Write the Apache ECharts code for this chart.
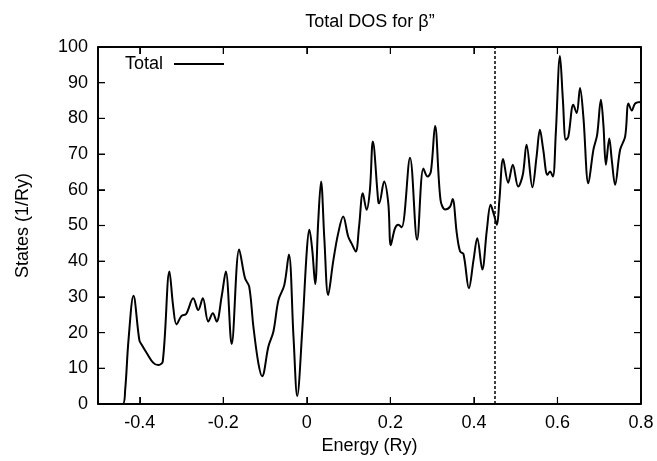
<!DOCTYPE html>
<html>
<head>
<meta charset="utf-8">
<script src="https://cdn.jsdelivr.net/npm/echarts@6/dist/echarts.min.js"></script>
<style>
  html, body { margin: 0; padding: 0; background: #fff; }
  #chart { width: 657px; height: 461px; }
</style>
</head>
<body>
<div id="chart"></div>
<script>
// Total density of states, energy in Ry, states per Ry
const energy = [
  -0.50, -0.441, -0.435, -0.427, -0.415, -0.401, -0.395, -0.383, -0.368, -0.356, -0.345,
  -0.329, -0.320, -0.312, -0.300, -0.289, -0.272, -0.260, -0.249, -0.236, -0.225, -0.216,
  -0.204, -0.194, -0.180, -0.162, -0.148, -0.138, -0.128, -0.116, -0.107, -0.092, -0.080,
  -0.068, -0.054, -0.043, -0.032, -0.023, -0.011, 0.000, 0.006, 0.013, 0.020, 0.027,
  0.034, 0.042, 0.051, 0.063, 0.075, 0.087, 0.099, 0.107, 0.117, 0.125, 0.134,
  0.143, 0.151, 0.158, 0.171, 0.173, 0.185, 0.195, 0.201, 0.211, 0.219, 0.227,
  0.247, 0.264, 0.279, 0.289, 0.297, 0.307, 0.320, 0.331, 0.343, 0.349, 0.359,
  0.367, 0.375, 0.388, 0.399, 0.408, 0.420, 0.431, 0.440, 0.448, 0.455, 0.461,
  0.470, 0.482, 0.493, 0.506, 0.517, 0.526, 0.540, 0.550, 0.558, 0.566, 0.576,
  0.582, 0.589, 0.596, 0.606, 0.613, 0.620, 0.626, 0.638, 0.646, 0.654, 0.662,
  0.674, 0.686, 0.695, 0.704, 0.710, 0.716, 0.724, 0.730, 0.738, 0.750, 0.762,
  0.770, 0.778, 0.786, 0.800
];
const states = [
  0.0, 0.0, 3.9, 17.9, 30.3, 17.9, 16.5, 14.2, 11.6, 10.9, 11.9,
  37.1, 27.3, 22.3, 24.7, 25.2, 29.6, 26.3, 29.6, 23.1, 25.4, 23.1,
  30.1, 37.1, 16.8, 43.3, 35.2, 32.9, 21.7, 11.4, 7.8, 16.1, 20.3,
  29.1, 33.3, 41.9, 18.9, 2.2, 20.7, 43.1, 48.8, 43.1, 33.6, 50.6,
  62.3, 46.0, 30.5, 39.9, 47.8, 52.5, 46.9, 45.0, 42.7, 49.7, 59.0,
  54.4, 60.0, 73.5, 56.7, 56.2, 62.3, 56.2, 44.5, 49.2, 50.2, 49.5,
  69.0, 46.0, 66.0, 63.7, 65.1, 77.9, 57.2, 54.5, 55.3, 57.4, 47.8,
  42.7, 42.0, 32.4, 40.3, 46.4, 37.7, 48.8, 55.8, 53.0, 50.2, 57.2,
  68.6, 62.0, 67.0, 60.9, 64.2, 72.6, 60.7, 69.3, 76.8, 71.2, 64.2,
  65.1, 63.7, 75.8, 97.5, 85.2, 74.0, 74.9, 83.8, 81.5, 88.5, 80.5,
  61.8, 71.2, 75.4, 85.2, 78.2, 67.0, 74.4, 68.4, 61.4, 71.2, 74.9,
  84.2, 82.2, 84.2, 84.6
];
const fermiLevel = 0.45;
const xTicks = [-0.4, -0.2, 0, 0.2, 0.4, 0.6, 0.8];
const yTicks = [0, 10, 20, 30, 40, 50, 60, 70, 80, 90, 100];

const X_MIN = -0.5, X_MAX = 0.8, Y_MIN = 0, Y_MAX = 100;
const TICK_PX = 7;

const font = 'Liberation Sans, Arial, Helvetica, sans-serif';
const fontSize = 18;
const points = energy.map((e, i) => [e, states[i]]);

const chart = echarts.init(document.getElementById('chart'));

const frameLine = () => ({ show: true, onZero: false, lineStyle: { color: '#000', width: 1.5 } });

function xAxisDef(pos, extra) {
  return Object.assign({
    show: true, gridIndex: 0, position: pos,
    type: 'value', min: X_MIN, max: X_MAX, interval: 0.1,
    axisLine: frameLine(),
    splitLine: { show: false },
    axisTick: { show: true, inside: true, length: TICK_PX, lineStyle: { color: '#000' }, customValues: xTicks }
  }, extra);
}
function yAxisDef(pos, extra) {
  return Object.assign({
    show: true, gridIndex: 0, position: pos,
    type: 'value', min: Y_MIN, max: Y_MAX, interval: 10,
    axisLine: frameLine(),
    splitLine: { show: false },
    axisTick: { show: true, inside: true, length: TICK_PX, lineStyle: { color: '#000' }, customValues: yTicks }
  }, extra);
}

chart.setOption({
  animation: false,
  title: {
    text: 'Total DOS for β”',
    left: 365, top: 8, textAlign: 'center',
    textStyle: { fontFamily: font, fontSize: fontSize, fontWeight: 'normal', color: '#000' }
  },
  legend: {
    left: 120, top: 50,
    align: 'right',
    itemWidth: 50, itemHeight: 2,
    icon: 'rect',
    textStyle: { fontFamily: font, fontSize: fontSize, color: '#000', padding: [0, 6, 0, 0] },
    data: ['Total']
  },
  grid: {
    left: 98, right: 16, top: 47, bottom: 57,
    containLabel: false, outerBoundsMode: 'none',
    show: true, borderColor: '#000', borderWidth: 1.5
  },
  xAxis: [
    xAxisDef('bottom', {
      name: 'Energy (Ry)', nameLocation: 'middle', nameGap: 33, nameMoveOverlap: false,
      nameTextStyle: { fontFamily: font, fontSize: fontSize, color: '#000' },
      axisLabel: {
        show: true, margin: 10, fontFamily: font, fontSize: fontSize, color: '#000',
        customValues: xTicks
      }
    }),
    xAxisDef('top', { axisLabel: { show: false } })
  ],
  yAxis: [
    yAxisDef('left', {
      name: 'States (1/Ry)', nameLocation: 'middle', nameGap: 66, nameMoveOverlap: false,
      nameTextStyle: { fontFamily: font, fontSize: fontSize, color: '#000' },
      axisLabel: {
        show: true, margin: 10, fontFamily: font, fontSize: fontSize, color: '#000',
        customValues: yTicks
      }
    }),
    yAxisDef('right', { axisLabel: { show: false } })
  ],
  series: [{
    name: 'Total',
    type: 'line',
    data: points,
    smooth: 0.35,
    symbol: 'none',
    color: '#000',
    lineStyle: { color: '#000', width: 2 },
    markLine: {
      silent: true,
      symbol: ['none', 'none'],
      label: { show: false },
      lineStyle: { color: '#000', width: 1.5, type: [3, 2] },
      data: [{ xAxis: fermiLevel }]
    }
  }]
});

// Closed frame with mirrored inward ticks, placed through the chart's own scales
const px = (x, y) => chart.convertToPixel({ xAxisIndex: 0, yAxisIndex: 0 }, [x, y]);
const line = (p1, p2, w) => ({
  type: 'line', silent: true, z: 100,
  shape: { x1: p1[0], y1: p1[1], x2: p2[0], y2: p2[1] },
  style: { stroke: '#000', lineWidth: w }
});
const bl = px(X_MIN, Y_MIN), tr = px(X_MAX, Y_MAX);
const frameEls = [
  line([bl[0], tr[1]], [tr[0], tr[1]], 1.5),
  line([tr[0], bl[1]], [tr[0], tr[1]], 1.5),
  line([bl[0], bl[1]], [tr[0], bl[1]], 1.5),
  line([bl[0], bl[1]], [bl[0], tr[1]], 1.5)
];
xTicks.forEach(t => {
  const p = px(t, Y_MIN);
  frameEls.push(line([p[0], bl[1]], [p[0], bl[1] - TICK_PX], 1.2));
  frameEls.push(line([p[0], tr[1]], [p[0], tr[1] + TICK_PX], 1.2));
});
yTicks.forEach(v => {
  const p = px(X_MIN, v);
  frameEls.push(line([bl[0], p[1]], [bl[0] + TICK_PX, p[1]], 1.2));
  frameEls.push(line([tr[0], p[1]], [tr[0] - TICK_PX, p[1]], 1.2));
});
chart.setOption({ graphic: { elements: frameEls } });
</script>
</body>
</html>
